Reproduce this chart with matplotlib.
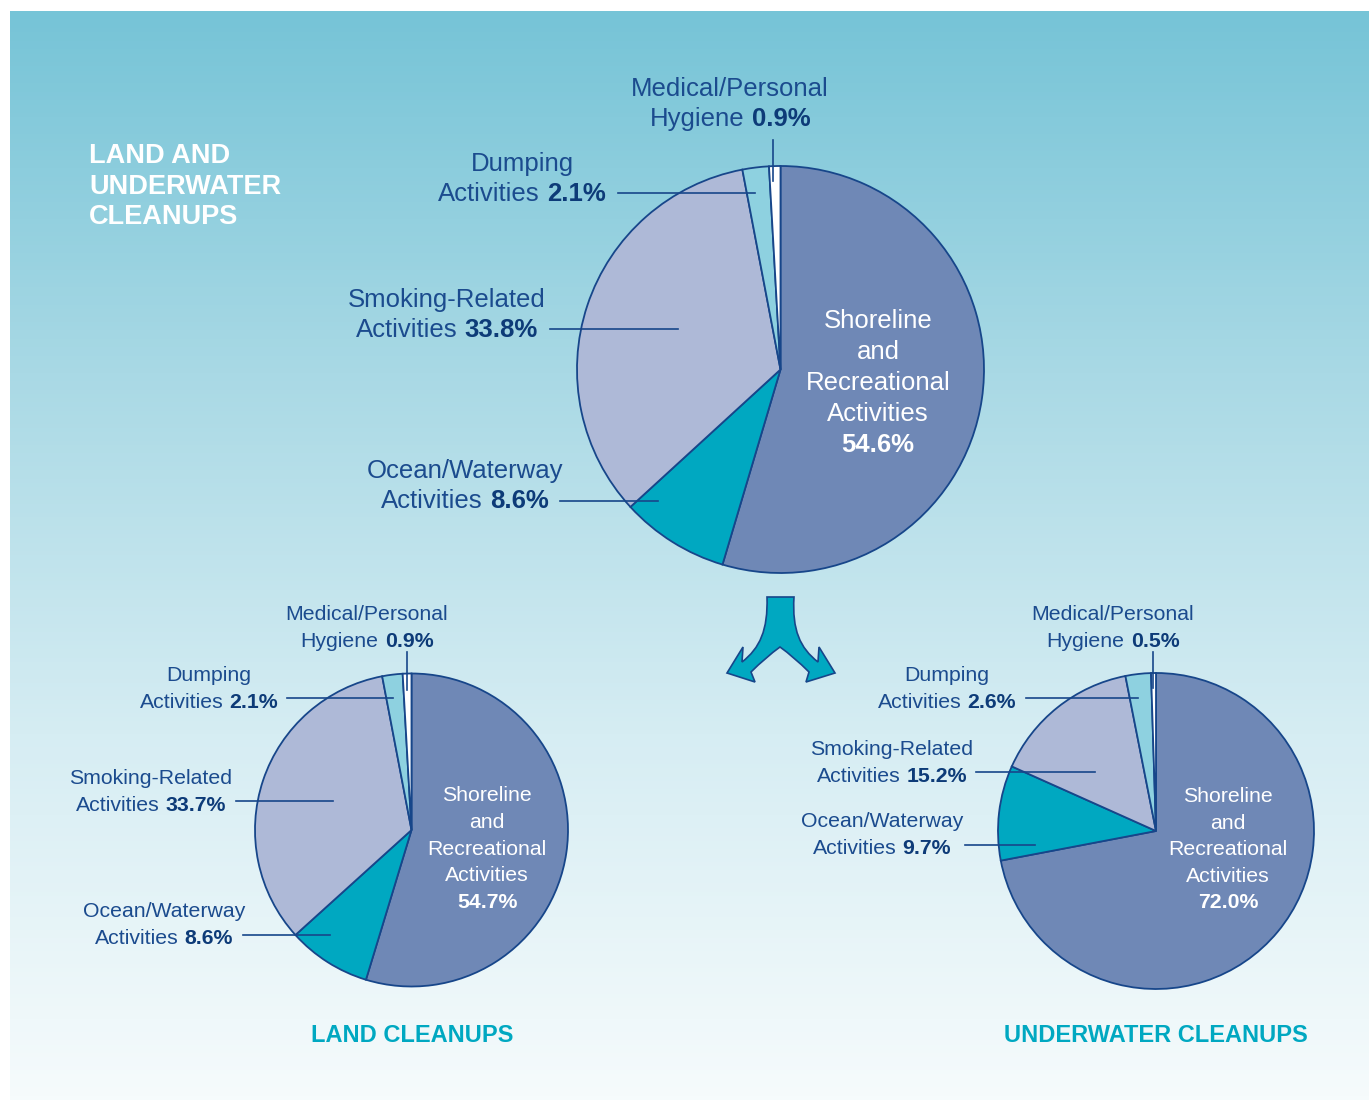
import matplotlib
matplotlib.use('Agg')
import matplotlib.pyplot as plt
import numpy as np
from matplotlib.colors import LinearSegmentedColormap
from matplotlib.path import Path
from matplotlib.patches import PathPatch

W, H = 1369, 1100

# data: share of debris by activity (%)
categories = ['Shoreline and Recreational Activities', 'Ocean/Waterway Activities',
              'Smoking-Related Activities', 'Dumping Activities',
              'Medical/Personal Hygiene']
total_pct = [54.6, 8.6, 33.8, 2.1, 0.9]
land_pct = [54.7, 8.6, 33.7, 2.1, 0.9]
underwater_pct = [72.0, 9.7, 15.2, 2.6, 0.5]

# outside label text (first line, word before the percentage), skipping shoreline
label_lines = [('Ocean/Waterway', 'Activities'),
               ('Smoking-Related', 'Activities'),
               ('Dumping', 'Activities'),
               ('Medical/Personal', 'Hygiene')]
inside_lines = ['Shoreline', 'and', 'Recreational', 'Activities']

colors = ['#6f88b6', '#00a8c1', '#aeb9d7', '#8ed1e0', '#ffffff']
EDGE = '#17468a'
TXT = '#1b4b8e'
PCT = '#0d3b78'
TEAL = '#00a8c1'
FONT = 'Liberation Sans'

# layout per pie: center, radius, font size, line gap,
# label (x center, baseline 1) and leader line (x0, x1, y0, y1) per outside label
layouts = [
    dict(values=total_pct, center=(780.5, 369.5), r=203.5, size=18.5, gap=30,
         labels=[(465, 478), (447, 307), (522, 171), (730, 96)],
         leaders=[(560, 658, 501, 501), (550, 678, 329, 329),
                  (618, 755, 193, 193), (773, 773, 140, 181)],
         inside=(878, 328, 31)),
    dict(values=land_pct, center=(411.5, 830), r=156.5, size=15.3, gap=27,
         labels=[(164, 917), (151, 784), (209, 681), (367, 620)],
         leaders=[(243, 330, 935, 935), (236, 333, 801, 801),
                  (287, 393, 698, 698), (407, 407, 652, 690)],
         inside=(487, 801, 26.8)),
    dict(values=underwater_pct, center=(1156, 831), r=158, size=15.3, gap=27,
         labels=[(882, 827), (892, 755), (947, 681), (1113, 620)],
         leaders=[(965, 1035, 845, 845), (976, 1095, 772, 772),
                  (1026, 1138, 698, 698), (1153, 1153, 652, 688)],
         inside=(1228, 802, 26.6)),
]


def mixed_line(ax, renderer, x, y, word, pct, size):
    a = ax.text(0, y, word, ha='left', va='baseline', fontsize=size,
                color=TXT, family=FONT)
    b = ax.text(0, y, '%.1f%%' % pct, ha='left', va='baseline', fontsize=size,
                color=PCT, family=FONT, fontweight='bold')
    wa = a.get_window_extent(renderer).width
    wb = b.get_window_extent(renderer).width
    sp = size * 100 / 72 * 0.28
    left = x - (wa + sp + wb) / 2
    a.set_x(left)
    b.set_x(left + wa + sp)


def draw_pie(ax, renderer, lay):
    ax.pie(lay['values'], colors=colors, center=lay['center'], radius=lay['r'],
           startangle=-90, counterclock=True, frame=True,
           wedgeprops=dict(edgecolor=EDGE, linewidth=1.3))
    for k, (lx, ly) in enumerate(lay['labels']):
        top, word = label_lines[k]
        ax.text(lx, ly, top, ha='center', va='baseline', fontsize=lay['size'],
                color=TXT, family=FONT)
        mixed_line(ax, renderer, lx, ly + lay['gap'], word,
                   lay['values'][k + 1], lay['size'])
        x0, x1, y0, y1 = lay['leaders'][k]
        ax.plot([x0, x1], [y0, y1], color=EDGE, lw=1.2)
    ix, iy, step = lay['inside']
    for i, s in enumerate(inside_lines):
        ax.text(ix, iy + i * step, s, ha='center', va='baseline',
                fontsize=lay['size'], color='white', family=FONT)
    ax.text(ix, iy + 4 * step, '%.1f%%' % lay['values'][0], ha='center',
            va='baseline', fontsize=lay['size'], color='white', family=FONT,
            fontweight='bold')


def draw_arrow(ax):
    verts = [(767, 597), (794, 597),
             (792, 630), (800, 648), (818, 662),
             (819, 647), (835, 673), (806, 682), (809, 672),
             (794, 657), (780, 647),
             (766, 657), (751, 672),
             (755, 682), (727, 673), (743, 647), (742, 662),
             (760, 648), (768, 630), (767, 597), (767, 597)]
    codes = [Path.MOVETO, Path.LINETO,
             Path.CURVE4, Path.CURVE4, Path.CURVE4,
             Path.LINETO, Path.LINETO, Path.LINETO, Path.LINETO,
             Path.CURVE3, Path.CURVE3,
             Path.CURVE3, Path.CURVE3,
             Path.LINETO, Path.LINETO, Path.LINETO, Path.LINETO,
             Path.CURVE4, Path.CURVE4, Path.CURVE4, Path.CLOSEPOLY]
    ax.add_patch(PathPatch(Path(verts, codes), facecolor=TEAL,
                           edgecolor=EDGE, lw=1.2, zorder=3))


if __name__ == '__main__':
    fig = plt.figure(figsize=(W / 100, H / 100), dpi=100)
    fig.patch.set_facecolor('white')
    ax = fig.add_axes([0, 0, 1, 1])
    renderer = fig.canvas.get_renderer()

    cmap = LinearSegmentedColormap.from_list(
        'bg', ['#76c4d7', '#a9d9e5', '#d6edf3', '#f6fbfc'])
    grad = np.linspace(0, 1, 256).reshape(-1, 1)
    ax.imshow(grad, cmap=cmap, extent=(10, W, H, 11), aspect='auto', zorder=0)

    for lay in layouts:
        draw_pie(ax, renderer, lay)
    draw_arrow(ax)

    for i, s in enumerate(['LAND AND', 'UNDERWATER', 'CLEANUPS']):
        ax.text(89, 163 + i * 30.5, s, ha='left', va='baseline', fontsize=19.5,
                color='white', family=FONT, fontweight='bold')
    ax.text(412.5, 1042, 'LAND CLEANUPS', ha='center', va='baseline',
            fontsize=17, color=TEAL, family=FONT, fontweight='bold')
    ax.text(1155.5, 1042, 'UNDERWATER CLEANUPS', ha='center', va='baseline',
            fontsize=17, color=TEAL, family=FONT, fontweight='bold')

    ax.set_xlim(0, W)
    ax.set_ylim(H, 0)
    ax.set_aspect('auto')
    ax.axis('off')
    fig.savefig('out.png', dpi=100, facecolor='white')
